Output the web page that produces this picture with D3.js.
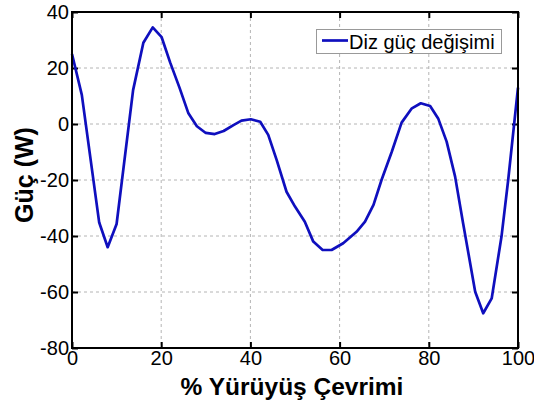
<!DOCTYPE html>
<html>
<head>
<meta charset="utf-8">
<script src="https://cdn.jsdelivr.net/npm/d3@7"></script>
<style>
  body { margin: 0; background: #fff; }
  svg { display: block; font-family: "Liberation Sans", Arial, sans-serif; }
  .grid line { stroke: #b4b4b4; stroke-dasharray: 3,3; stroke-width: 1; }
</style>
</head>
<body>
<svg width="534" height="403"></svg>
<script>
// gait cycle (%) and knee power (W)
var cycle = [0, 2.2, 6.1, 8, 10, 13.7, 16, 18.1, 20.1, 22, 24.1, 26.1, 28, 30, 32, 34, 36.2, 38, 40.1, 42.2,
  44, 45.9, 48.1, 50, 52.2, 54.1, 56.2, 58.2, 60.8, 63.8, 65.7, 67.6, 69.4, 71.7, 73.9, 76.2, 78.2, 80.3,
  82.1, 84, 85.9, 87.7, 90.4, 92.2, 94.1, 96.3, 97.8, 100];
var power = [25, 10.4, -35.2, -44, -35.7, 12.1, 29, 34.5, 31, 22, 13, 3.8, -0.8, -3.2, -3.6, -2.5, -0.4, 1.2, 1.7, 0.8,
  -3.9, -12.9, -24.2, -29.5, -34.9, -42, -45, -45, -42.6, -38.5, -34.9, -28.9, -20, -9.9, 0.5, 5.6, 7.4, 6.4,
  2, -6.3, -18.8, -35.5, -59.9, -67.6, -62.3, -40.2, -20, 13];
var xTicks = [0, 20, 40, 60, 80, 100];
var yTicks = [-80, -60, -40, -20, 0, 20, 40];
var seriesName = "Diz güç değişimi";

(function() {
var svg = d3.select("svg");
var pl = 72, pr = 518, pt = 12, pb = 348;

var x = d3.scaleLinear().domain([0, 100]).range([pl, pr]);
var y = d3.scaleLinear().domain([-80, 40]).range([pb, pt]);

// grid
var grid = svg.append("g").attr("class", "grid");
grid.selectAll(".gx").data(xTicks.slice(1, -1)).enter().append("line")
  .attr("x1", function(d) { return x(d); }).attr("x2", function(d) { return x(d); })
  .attr("y1", pt).attr("y2", pb);
grid.selectAll(".gy").data(yTicks.slice(1, -1)).enter().append("line")
  .attr("y1", function(d) { return y(d); }).attr("y2", function(d) { return y(d); })
  .attr("x1", pl).attr("x2", pr);

// axes, ticks inside like matlab
var fs = "20px";
var plain = function(d) { return String(d); }; // hyphen minus like the original
var ax = svg.append("g").attr("transform", "translate(0," + pb + ")")
  .call(d3.axisBottom(x).tickValues(xTicks).tickSize(-6).tickPadding(3).tickFormat(plain));
var ax2 = svg.append("g").attr("transform", "translate(0," + pt + ")")
  .call(d3.axisTop(x).tickValues(xTicks).tickSize(-6).tickFormat(""));
var ay = svg.append("g").attr("transform", "translate(" + pl + ",0)")
  .call(d3.axisLeft(y).tickValues(yTicks).tickSize(-6).tickPadding(3).tickFormat(plain));
var ay2 = svg.append("g").attr("transform", "translate(" + pr + ",0)")
  .call(d3.axisRight(y).tickValues(yTicks).tickSize(-6).tickFormat(""));

[ax, ax2, ay, ay2].forEach(function(a) {
  a.select(".domain").remove();
  a.selectAll(".tick line").attr("stroke", "#000").attr("stroke-width", 2);
  a.selectAll("text").attr("font-size", fs).attr("font-family", "Liberation Sans, Arial, sans-serif").attr("fill", "#000");
});
ax.selectAll("text").attr("dy", "0.71em");

// data line
var line = d3.line()
  .x(function(d, i) { return x(cycle[i]); })
  .y(function(d) { return y(d); });
svg.append("path").datum(power)
  .attr("d", line)
  .attr("fill", "none")
  .attr("stroke", "#0f0fbe")
  .attr("stroke-width", 2.7)
  .attr("stroke-linejoin", "round");

// box
svg.append("rect")
  .attr("x", pl).attr("y", pt)
  .attr("width", pr - pl).attr("height", pb - pt)
  .attr("fill", "none").attr("stroke", "#000").attr("stroke-width", 2);

// legend
var lg = svg.append("g");
lg.append("rect").attr("x", 316.5).attr("y", 29.5).attr("width", 185).attr("height", 24)
  .attr("fill", "#fff").attr("stroke", "#999").attr("stroke-width", 1);
lg.append("line").attr("x1", 322).attr("x2", 348).attr("y1", 40.5).attr("y2", 40.5)
  .attr("stroke", "#0f0fbe").attr("stroke-width", 2.7);
lg.append("text").attr("x", 349).attr("y", 48.5).attr("font-size", fs).text(seriesName);

// axis labels
svg.append("text")
  .attr("x", (pl + pr) / 2 - 3).attr("y", 395)
  .attr("text-anchor", "middle").attr("font-size", "24.5px").attr("font-weight", "bold")
  .text("% Yürüyüş Çevrimi");
svg.append("text")
  .attr("transform", "translate(33,175) rotate(-90)")
  .attr("text-anchor", "middle").attr("font-size", "25px").attr("font-weight", "bold")
  .text("Güç (W)");
})();
</script>
</body>
</html>
